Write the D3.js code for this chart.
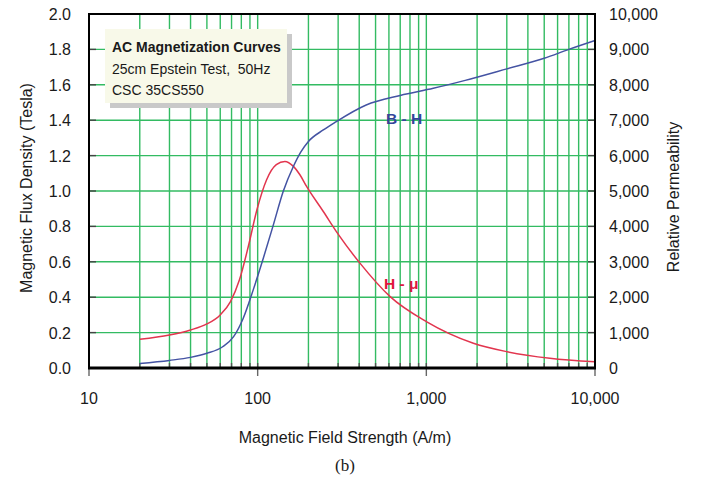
<!DOCTYPE html>
<html>
<head>
<meta charset="utf-8">
<script src="https://cdn.jsdelivr.net/npm/d3@7"></script>
<style>
  body { margin: 0; background: #fff; }
  svg text { font-family: "Liberation Sans", Arial, sans-serif; fill: #1a1a1a; }
</style>
</head>
<body>
<div id="chart"></div>
<script>
// B-H curve (left axis, Tesla)
var bhField = [20, 30, 40, 50, 62, 72, 82, 94, 108, 124, 142, 163, 180, 200, 245, 290, 440, 700, 1100, 1700, 3000, 5000, 7000, 10000];
var bhFlux  = [0.026, 0.043, 0.06, 0.083, 0.12, 0.177, 0.28, 0.44, 0.62, 0.81, 1.0, 1.14, 1.22, 1.28, 1.345, 1.39, 1.486, 1.54, 1.58, 1.625, 1.69, 1.75, 1.80, 1.85];

// H-mu curve (right axis, relative permeability)
var muField = [20, 30, 40, 50, 60, 69, 78, 88, 99, 113, 129, 145, 163, 178, 195, 245, 300, 404, 610, 1000, 1900, 3000, 5400, 10000];
var muValue = [812, 933, 1075, 1245, 1500, 1876, 2490, 3431, 4470, 5318, 5743, 5836, 5695, 5460, 5130, 4420, 3780, 2962, 2017, 1310, 699, 461, 274, 175];

var xTickLabels = ["10", "100", "1,000", "10,000"];
var legendLines = ["AC Magnetization Curves", "25cm Epstein Test,  50Hz", "CSC 35CS550"];

var W = 707, H = 478;
var m = {left: 89, right: 595, top: 14, bottom: 368};
var gridColor = "#33bb62";

var x = d3.scaleLog().domain([10, 10000]).range([m.left, m.right]);
var yB = d3.scaleLinear().domain([0, 2]).range([m.bottom, m.top]);
var yMu = d3.scaleLinear().domain([0, 10000]).range([m.bottom, m.top]);

var svg = d3.select("#chart").append("svg")
    .attr("width", W).attr("height", H);

// vertical gridlines: 20 .. 9000
var vLines = [];
[10, 100, 1000].forEach(function(d) {
  for (var k = 1; k < 10; k++) if (d * k > 10) vLines.push(d * k);
});

svg.append("g").selectAll("line").data(vLines).enter().append("line")
  .attr("x1", function(d) { return x(d); }).attr("x2", function(d) { return x(d); })
  .attr("y1", m.top).attr("y2", m.bottom)
  .attr("stroke", gridColor).attr("stroke-width", 1.4);

// horizontal gridlines
var hLines = d3.range(1, 10).map(function(i) { return i * 0.2; });
svg.append("g").selectAll("line").data(hLines).enter().append("line")
  .attr("x1", m.left).attr("x2", m.right)
  .attr("y1", function(d) { return yB(d); }).attr("y2", function(d) { return yB(d); })
  .attr("stroke", gridColor).attr("stroke-width", 1.4);

// inner ticks on left / right
svg.append("g").selectAll("line").data(hLines).enter().append("line")
  .attr("x1", m.left).attr("x2", m.left + 7)
  .attr("y1", function(d) { return yB(d); }).attr("y2", function(d) { return yB(d); })
  .attr("stroke", "#444").attr("stroke-width", 1.4);
svg.append("g").selectAll("line").data(hLines).enter().append("line")
  .attr("x1", m.right - 7).attr("x2", m.right)
  .attr("y1", function(d) { return yB(d); }).attr("y2", function(d) { return yB(d); })
  .attr("stroke", "#444").attr("stroke-width", 1.4);

// minor ticks on bottom (inside)
svg.append("g").selectAll("line").data(vLines).enter().append("line")
  .attr("x1", function(d) { return x(d); }).attr("x2", function(d) { return x(d); })
  .attr("y1", m.bottom - 5).attr("y2", m.bottom)
  .attr("stroke", "#555").attr("stroke-width", 1.4);

// major ticks below axis
var majors = [10, 100, 1000, 10000];
svg.append("g").selectAll("line").data(majors).enter().append("line")
  .attr("x1", function(d) { return x(d); }).attr("x2", function(d) { return x(d); })
  .attr("y1", m.bottom).attr("y2", m.bottom + 8)
  .attr("stroke", "#666").attr("stroke-width", 1.4);

// legend box
var lg = svg.append("g");
lg.append("rect").attr("x", 110).attr("y", 34).attr("width", 182).attr("height", 74).attr("fill", "#c9c9c9");
lg.append("rect").attr("x", 105).attr("y", 29).attr("width", 182).attr("height", 74).attr("fill", "#f8f9e9");
lg.selectAll("text").data(legendLines).enter().append("text")
  .attr("x", 112).attr("y", function(d, i) { return 52 + i * 21.5; })
  .attr("font-size", 14)
  .attr("xml:space", "preserve").style("white-space", "pre")
  .attr("font-weight", function(d, i) { return i === 0 ? "bold" : "normal"; })
  .text(function(d) { return d; });

// curves
var bhData = bhField.map(function(h, i) { return [h, bhFlux[i]]; });
var muData = muField.map(function(h, i) { return [h, muValue[i]]; });

svg.append("path").datum(muData)
  .attr("fill", "none").attr("stroke", "#e2354e").attr("stroke-width", 1.5)
  .attr("d", d3.line().curve(d3.curveMonotoneX)
    .x(function(d) { return x(d[0]); }).y(function(d) { return yMu(d[1]); }));

svg.append("path").datum(bhData)
  .attr("fill", "none").attr("stroke", "#4453a3").attr("stroke-width", 1.5)
  .attr("d", d3.line().curve(d3.curveMonotoneX)
    .x(function(d) { return x(d[0]); }).y(function(d) { return yB(d[1]); }));

// frame
svg.append("path")
  .attr("d", "M" + m.left + "," + m.bottom + "V" + m.top + "H" + m.right + "V" + m.bottom)
  .attr("fill", "none").attr("stroke", "#000").attr("stroke-width", 2);
svg.append("line").attr("x1", m.left - 1).attr("x2", m.right + 1).attr("y1", m.bottom).attr("y2", m.bottom)
  .attr("stroke", "#000").attr("stroke-width", 3);

// curve labels
svg.append("text").attr("x", 386).attr("y", 124).attr("font-size", 15.5).attr("font-weight", "bold")
  .style("fill", "#34449a").text("B - H");
svg.append("text").attr("x", 384).attr("y", 289).attr("font-size", 15.5).attr("font-weight", "bold")
  .style("fill", "#e0163e").text("H - μ");

// tick labels
svg.append("g").selectAll("text").data(d3.range(0, 11).map(function(i) { return i * 0.2; })).enter().append("text")
  .attr("x", 71).attr("y", function(d) { return yB(d) + 6; })
  .attr("text-anchor", "end").attr("font-size", 16)
  .text(function(d) { return d3.format(".1f")(d); });

svg.append("g").selectAll("text").data(d3.range(0, 11).map(function(i) { return i * 1000; })).enter().append("text")
  .attr("x", 609).attr("y", function(d) { return yMu(d) + 6; })
  .attr("font-size", 16)
  .text(function(d) { return d3.format(",")(d); });

svg.append("g").selectAll("text").data(majors).enter().append("text")
  .attr("x", function(d) { return x(d); }).attr("y", 404)
  .attr("text-anchor", "middle").attr("font-size", 16)
  .text(function(d, i) { return xTickLabels[i]; });

// axis titles
svg.append("text").attr("x", 345).attr("y", 443).attr("text-anchor", "middle").attr("font-size", 16)
  .text("Magnetic Field Strength (A/m)");
svg.append("text").attr("transform", "translate(32,188) rotate(-90)").attr("text-anchor", "middle").attr("font-size", 16)
  .text("Magnetic Flux Density (Tesla)");
svg.append("text").attr("transform", "translate(679,197) rotate(-90)").attr("text-anchor", "middle").attr("font-size", 16)
  .text("Relative Permeability");
svg.append("text").attr("x", 345).attr("y", 471).attr("text-anchor", "middle").attr("font-size", 17)
  .style("font-family", "'Liberation Serif', 'Times New Roman', serif")
  .text("(b)");
</script>
</body>
</html>
